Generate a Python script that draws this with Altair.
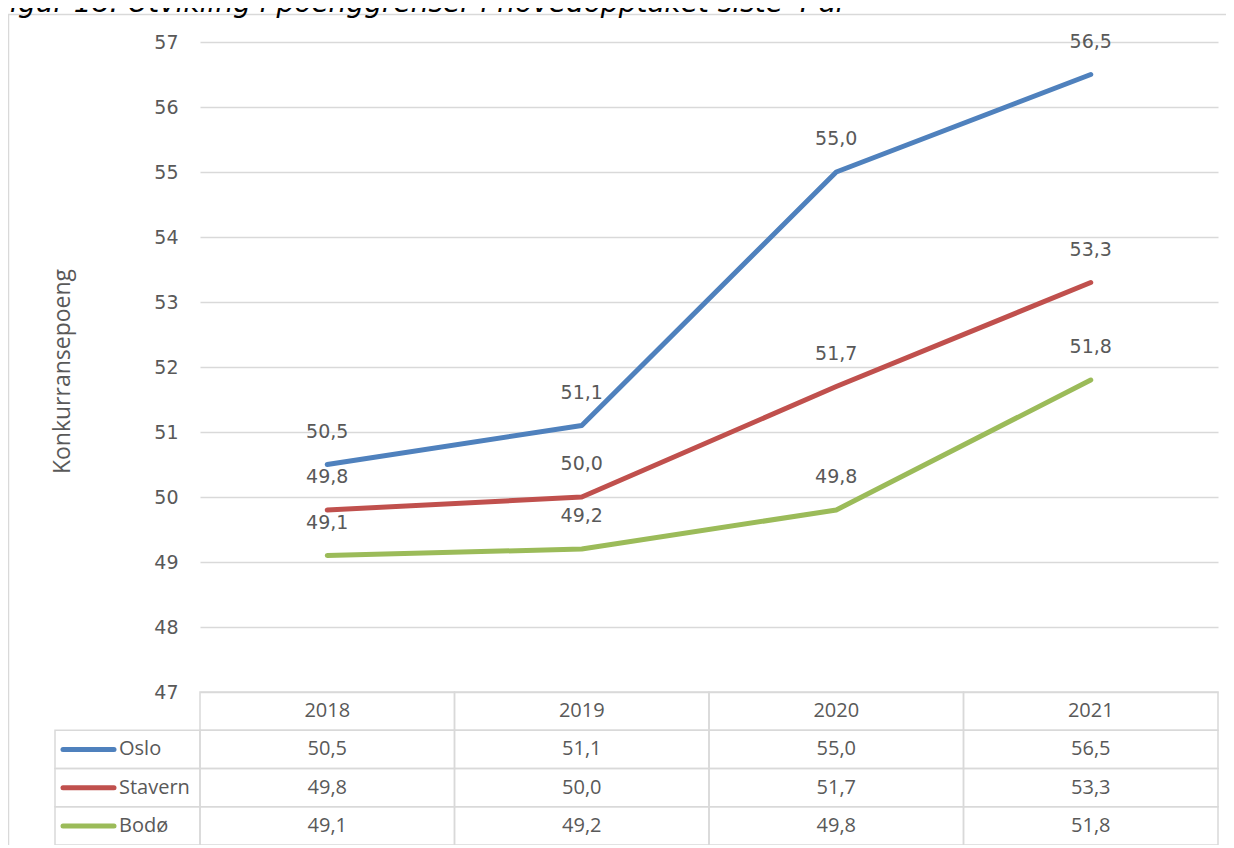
import altair as alt
import pandas as pd

title_text = "Figur 18: Utvikling i poenggrenser i hovedopptaket siste 4 år"
y_title = "Konkurransepoeng"
years = [2018, 2019, 2020, 2021]
series = ["Oslo", "Stavern", "Bodø"]
oslo = [50.5, 51.1, 55.0, 56.5]
stavern = [49.8, 50.0, 51.7, 53.3]
bodo = [49.1, 49.2, 49.8, 51.8]
colors = ["#4F81BD", "#C0504D", "#9BBB59"]
y_ticks = [47, 48, 49, 50, 51, 52, 53, 54, 55, 56, 57]

values = {"Oslo": oslo, "Stavern": stavern, "Bodø": bodo}
rows = []
for s in series:
    for yr, v in zip(years, values[s]):
        rows.append({"year": yr, "series": s, "value": v,
                     "label": f"{v:.1f}".replace(".", ",")})
df = pd.DataFrame(rows)

trows = [{"year": yr, "row": "header", "text": str(yr)} for yr in years]
trows += [{"year": r["year"], "row": r["series"], "text": r["label"]} for r in rows]
tdf = pd.DataFrame(trows)
sdf = pd.DataFrame({"series": series})

GRID = "#d9d9d9"
TXT = "#595959"
PW, PH = 1018, 803
PLOT_H = 650

xs = alt.Scale(domain=[2017.5, 2021.5])
ys = alt.Scale(domain=[47, 57], range=[PLOT_H, 0], nice=False, zero=False)
cscale = alt.Scale(domain=series, range=colors)
rscale = alt.Scale(domain=["header"] + series, range=[PLOT_H, PH],
                   paddingInner=0, paddingOuter=0)

y_axis = alt.Axis(
    values=y_ticks, grid=True, gridColor=GRID, gridWidth=1.5, domain=False, ticks=False,
    labelFont="DejaVu Sans", labelFontSize=19, labelColor=TXT, labelPadding=22,
    title=y_title, titleFont="Open Sans", titleFontSize=23, titleFontWeight="normal",
    titleColor=TXT, titleX=-138, titleY=329, titleAngle=-90, titleAlign="center",
    titleBaseline="middle")

one = alt.Data(values=[{"a": 1}])

frame = alt.Chart(one).mark_rect(fill="transparent", stroke=GRID, strokeWidth=1.5).encode(
    x=alt.value(-191.5), x2=alt.value(1300), y=alt.value(-27.5), y2=alt.value(900))

title = alt.Chart(one).mark_text(
    text=title_text, align="left", baseline="alphabetic", font="DejaVu Sans",
    fontStyle="italic", fontSize=28, color="#000000").encode(
    x=alt.value(-206), y=alt.value(-30))

lines = alt.Chart(df).mark_line(strokeWidth=5, strokeCap="round", strokeJoin="round").encode(
    x=alt.X("year:Q", scale=xs, axis=None),
    y=alt.Y("value:Q", scale=ys, axis=y_axis),
    color=alt.Color("series:N", scale=cscale, legend=None),
    detail="series:N",
)

labels = alt.Chart(df).mark_text(font="DejaVu Sans", fontSize=19, color=TXT, dy=-33,
                                 baseline="middle").encode(
    x=alt.X("year:Q", scale=xs, axis=None),
    y=alt.Y("value:Q", scale=ys, axis=y_axis),
    text="label:N",
)

top = alt.layer(frame, title, lines, labels)

cells = alt.Chart(tdf).mark_rect(fill="transparent", stroke=GRID, strokeWidth=1.5).transform_calculate(
    x0="datum.year - 0.5", x1="datum.year + 0.5").encode(
    x=alt.X("x0:Q", scale=xs, axis=None),
    x2="x1:Q",
    y=alt.Y("row:N", scale=rscale, axis=None),
)

cell_text = alt.Chart(tdf).mark_text(font="Open Sans", fontSize=20, color=TXT,
                                     baseline="middle").encode(
    x=alt.X("year:Q", scale=xs, axis=None),
    y=alt.Y("row:N", scale=rscale, axis=None, bandPosition=0.5),
    text="text:N",
)

name_cells = alt.Chart(sdf).mark_rect(fill="transparent", stroke=GRID, strokeWidth=1.5).encode(
    x=alt.value(-145), x2=alt.value(0),
    y=alt.Y("series:N", scale=rscale, axis=None),
)

keys = alt.Chart(sdf).mark_rule(strokeWidth=5, strokeCap="round").encode(
    x=alt.value(-137), x2=alt.value(-86),
    y=alt.Y("series:N", scale=rscale, axis=None, bandPosition=0.5),
    color=alt.Color("series:N", scale=cscale, legend=None),
)

names = alt.Chart(sdf).mark_text(font="Open Sans", fontSize=20, color=TXT, align="left",
                                 baseline="middle").encode(
    x=alt.value(-81),
    y=alt.Y("series:N", scale=rscale, axis=None, bandPosition=0.5),
    text="series:N",
)

table = alt.layer(cells, name_cells, cell_text, keys, names)

chart = alt.layer(top, table).resolve_scale(y="independent", color="shared").properties(
    width=PW, height=PH,
    autosize=alt.AutoSizeParams(type="none"),
    padding={"left": 192, "top": 34, "right": 8, "bottom": 0},
).configure(background="white").configure_view(stroke=None)

chart.save("out.html", embed_options={"renderer": "svg", "actions": False})
